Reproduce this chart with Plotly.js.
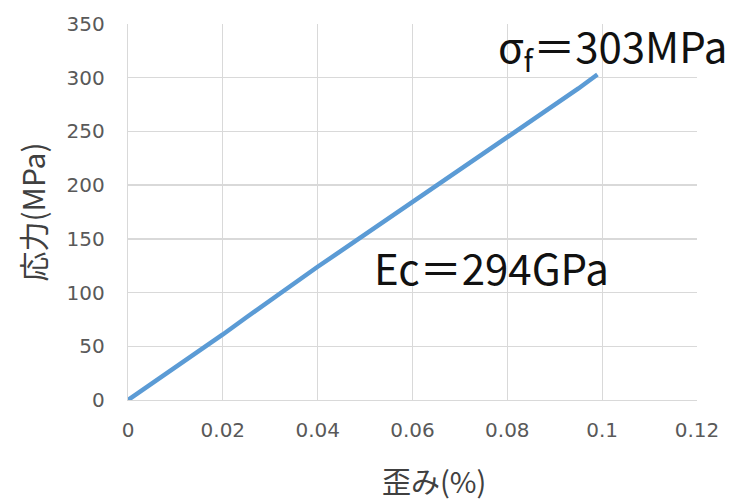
<!DOCTYPE html>
<html>
<head>
<meta charset="utf-8">
<script src="https://cdn.plot.ly/plotly-3.0.1.min.js"></script>
<style>html,body{margin:0;padding:0;background:#fff;}#chart{width:737px;height:501px;}</style>
</head>
<body>
<div id="chart"></div>
<script>
// Strain (%) and stress (MPa)
const strain = [0, 0.005, 0.01, 0.015, 0.02, 0.025, 0.03, 0.035, 0.04, 0.045, 0.05, 0.055, 0.06, 0.065, 0.07, 0.075, 0.08, 0.085, 0.09, 0.095, 0.099];
const stress = [0, 15, 30, 46, 61, 77, 93, 108, 124, 139, 154, 169, 184, 199, 214, 230, 245, 260, 275, 290, 303];
const xTicks = [0, 0.02, 0.04, 0.06, 0.08, 0.1, 0.12];
const xTickText = ["0", "0.02", "0.04", "0.06", "0.08", "0.1", "0.12"];
const yTicks = [0, 50, 100, 150, 200, 250, 300, 350];
const xTitle = "歪み(%)";
const yTitle = "応力(MPa)";
const noteFracture = "σ<sub>f</sub>＝303MPa";
const noteModulus = "Ec＝294GPa";

const jp = '"Noto Sans CJK JP", "Noto Sans", sans-serif';
const tickFam = '"DejaVu Sans", sans-serif';
const trace = {
  x: strain, y: stress, type: 'scatter', mode: 'lines',
  line: {color: '#5B9BD5', width: 4.5}, hoverinfo: 'skip', showlegend: false
};
const layout = {
  width: 737, height: 501,
  margin: {l: 128, r: 40, t: 24, b: 101},
  paper_bgcolor: '#fff', plot_bgcolor: '#fff',
  font: {family: jp, color: '#595959'},
  xaxis: {
    range: [0, 0.12], tickvals: xTicks, ticktext: xTickText,
    showgrid: true, gridcolor: '#d9d9d9', gridwidth: 1.3,
    showline: true, linecolor: '#d9d9d9', linewidth: 1.3, zeroline: false,
    ticks: '', ticklabelstandoff: 12,
    tickfont: {size: 20, color: '#595959', family: tickFam}
  },
  yaxis: {
    range: [0, 350], tickvals: yTicks,
    showgrid: true, gridcolor: '#d9d9d9', gridwidth: 1.3,
    showline: true, linecolor: '#d9d9d9', linewidth: 1.3, zeroline: false,
    ticks: '', ticklabelstandoff: 18,
    tickfont: {size: 20, color: '#595959', family: tickFam},
    title: {text: yTitle, font: {size: 30, color: '#404040', family: jp}, standoff: 12}
  },
  annotations: [
    {x: 0.0777, y: 329, xref: 'x', yref: 'y', xanchor: 'left', yanchor: 'middle',
     text: noteFracture, showarrow: false, font: {size: 42, color: '#111', family: jp}},
    {x: 0.0514, y: 124, xref: 'x', yref: 'y', xanchor: 'left', yanchor: 'middle',
     text: noteModulus, showarrow: false, font: {size: 42, color: '#111', family: jp}},
    {x: 0.538, y: 0, xref: 'paper', yref: 'paper', xanchor: 'center', yanchor: 'middle',
     yshift: -80, text: xTitle, showarrow: false, font: {size: 29, color: '#404040', family: jp}}
  ]
};
Plotly.newPlot('chart', [trace], layout, {displayModeBar: false, staticPlot: true});
</script>
</body>
</html>
